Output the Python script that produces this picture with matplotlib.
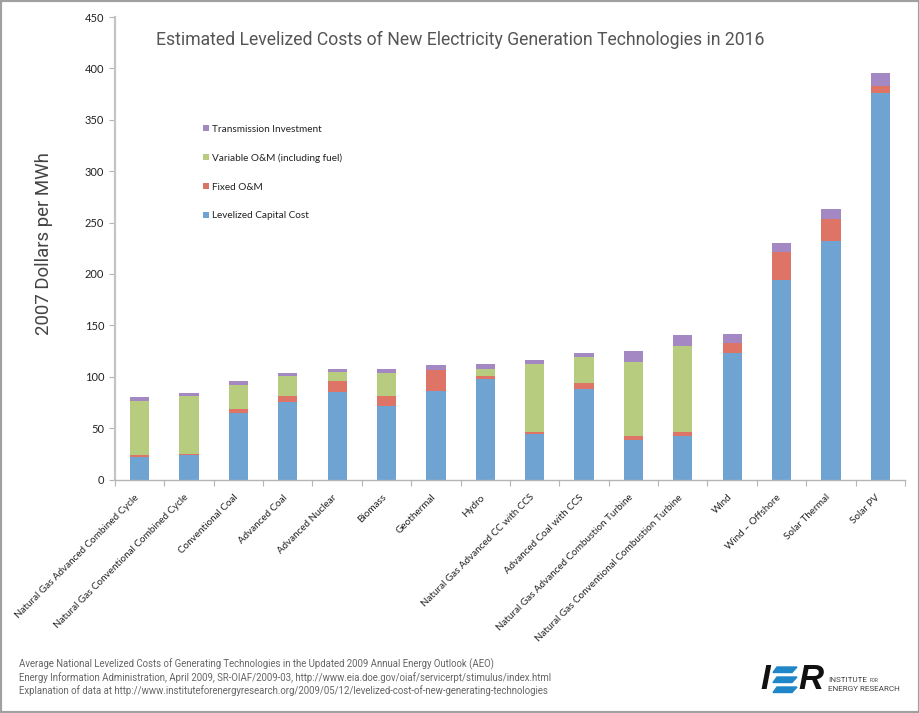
import matplotlib
matplotlib.use("Agg")
import numpy as np
import matplotlib.pyplot as plt
from matplotlib.patches import Polygon, Rectangle
from matplotlib.transforms import ScaledTranslation

categories = [
    "Natural Gas Advanced Combined Cycle",
    "Natural Gas Conventional Combined Cycle",
    "Conventional Coal",
    "Advanced Coal",
    "Advanced Nuclear",
    "Biomass",
    "Geothermal",
    "Hydro",
    "Natural Gas Advanced CC with CCS",
    "Advanced Coal with CCS",
    "Natural Gas Advanced Combustion Turbine",
    "Natural Gas Conventional Combustion Turbine",
    "Wind",
    "Wind \u2013 Offshore",
    "Solar Thermal",
    "Solar PV",
]

capital = [22, 23.5, 65, 75.5, 85, 72, 86.5, 97.5, 44, 88, 38.7, 42, 123.5, 194, 232.5, 376.5]
fixed = [2, 1.5, 3.5, 5.5, 11, 9, 20, 3.5, 2, 6, 4, 4, 9.5, 27, 20.5, 6.5]
variable = [52.5, 56, 23.5, 20, 9, 22.5, 0, 6.5, 66.5, 25, 71.5, 84, 0, 0, 0, 0]
transmission = [3.5, 3.5, 3.5, 3, 3, 4, 5, 5, 3.5, 4, 10.5, 10.5, 8.5, 9, 10.5, 12.5]

series = [
    ("Levelized Capital Cost", capital, "#6fa3d2"),
    ("Fixed O&M", fixed, "#dd7466"),
    ("Variable O&M (including fuel)", variable, "#b7cc7e"),
    ("Transmission Investment", transmission, "#a388c4"),
]

yticks = [0, 50, 100, 150, 200, 250, 300, 350, 400, 450]

title = "Estimated Levelized Costs of New Electricity Generation Technologies in 2016"
ylabel = "2007 Dollars per MWh"
source = [
    "Average National Levelized Costs of Generating Technologies in the Updated 2009 Annual Energy Outlook (AEO)",
    "Energy Information Administration, April 2009, SR-OIAF/2009-03, http://www.eia.doe.gov/oiaf/servicerpt/stimulus/index.html",
    "Explanation of data at http://www.instituteforenergyresearch.org/2009/05/12/levelized-cost-of-new-generating-technologies",
]

W, H = 920, 713
fig = plt.figure(figsize=(W / 100, H / 100), dpi=100)
ax = fig.add_axes([115 / W, (H - 479.5) / H, 790 / W, 462.5 / H])


def fx(px):
    return px / W


def fy(py):
    return 1 - py / H


x = np.arange(len(categories))
bottom = np.zeros(len(categories))
handles = []
for name, vals, col in series:
    vals = np.array(vals)
    b = ax.bar(x, vals, 0.39, bottom=bottom, color=col, label=name)
    handles.append(b)
    bottom += vals

ax.set_xlim(-0.5, len(categories) - 0.5)
ax.set_ylim(0, 450)
ax.set_yticks(yticks)
ax.tick_params(axis="y", labelsize=8, length=4, color="#b5b5b5", pad=3.8,
               labelcolor="#222222", labelfontfamily="Lato")

# ticks sit between the categories, labels under the bars
ax.set_xticks(np.arange(len(categories) + 1) - 0.5)
ax.set_xticklabels([])
ax.tick_params(axis="x", which="major", length=4, color="#b5b5b5")
ax.set_xticks(x, minor=True)
ax.set_xticklabels(categories, minor=True, rotation=45, ha="right", va="top",
                   rotation_mode="anchor", fontsize=7.1, family="Lato", color="#222222")
ax.tick_params(axis="x", which="minor", length=0, pad=6)
shift = ScaledTranslation(-5 / 100, -5 / 100, fig.dpi_scale_trans)
for lab in ax.get_xticklabels(minor=True):
    lab.set_transform(lab.get_transform() + shift)

for s in ["top", "right"]:
    ax.spines[s].set_visible(False)
ax.spines["left"].set_color("#c4c4c4")
ax.spines["left"].set_linewidth(1.6)
ax.spines["bottom"].set_color("#b5b5b5")
ax.spines["bottom"].set_linewidth(1.0)

leg = ax.legend(handles[::-1], [s[0] for s in series[::-1]], loc="upper left",
                bbox_to_anchor=(0.112, 0.767), frameon=False,
                prop={"family": "Lato", "size": 7.2}, handlelength=0.55, handleheight=0.55,
                handletextpad=0.35, labelspacing=1.97, borderpad=0, borderaxespad=0)
for t in leg.get_texts():
    t.set_color("#222222")

fig.text(fx(460), fy(40), title, ha="center", va="center", fontsize=12.7,
         family="Roboto", color="#555555")
fig.text(fx(44), fy(244), ylabel, ha="center", va="center", rotation=90, fontsize=13.4,
         family="Roboto", color="#444444")

for i, line in enumerate(source):
    fig.text(fx(19), fy(664 + i * 13.5), line, ha="left", va="center", fontsize=6.95,
             family="Roboto", color="#666666")

# logo
fig.text(fx(760), fy(679.5), "I", ha="left", va="center", fontsize=25, family="Liberation Sans",
         weight="bold", style="italic", color="#111111")
fig.text(fx(798), fy(679.5), "R", ha="left", va="center", fontsize=25, family="Liberation Sans",
         weight="bold", style="italic", color="#111111")
for py in [667, 677, 687]:
    fig.add_artist(Polygon([[fx(773), fy(py + 5.5)], [fx(792), fy(py + 5.5)], [fx(797), fy(py)], [fx(777), fy(py)]],
                           closed=True, color="#1f86c8", transform=fig.transFigure))
fig.text(fx(828), fy(680), "INSTITUTE", ha="left", va="center", fontsize=5.9, family="Roboto", color="#444444")
fig.text(fx(870), fy(680), "FOR", ha="left", va="center", fontsize=3.5, family="Roboto", color="#444444")
fig.text(fx(828), fy(689), "ENERGY RESEARCH", ha="left", va="center", fontsize=5.9, family="Roboto", color="#444444")

# grey frame around the image
fig.add_artist(Rectangle((0, 0), 1, 1, transform=fig.transFigure, fill=False,
                         edgecolor="#a0a0a0", linewidth=3))

fig.savefig("out.png", dpi=100)
